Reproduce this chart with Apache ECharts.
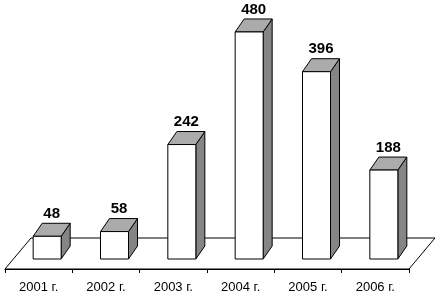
<!DOCTYPE html>
<html><head><meta charset="utf-8">
<script src="https://cdn.jsdelivr.net/npm/echarts@6/dist/echarts.min.js"></script>
<style>html,body{margin:0;padding:0;background:#fff}#c{width:439px;height:295px}</style>
</head><body><div id="c"></div>
<script>
var categories = ['2001 г.', '2002 г.', '2003 г.', '2004 г.', '2005 г.', '2006 г.'];
var values = [48, 58, 242, 480, 396, 188];

var chart = echarts.init(document.getElementById('c'), null, {renderer: 'canvas'});
var FONT = 'Arial, "Liberation Sans", sans-serif';

var barData = values.map(function (v, i) { return [i, v]; });

chart.setOption({
  animation: false,
  backgroundColor: '#fff',
  grid: {left: 5, right: 30, top: 32.5, bottom: 26, containLabel: false, outerBoundsMode: 'none'},
  xAxis: {
    type: 'category', data: categories, boundaryGap: true,
    axisLine: {show: true, lineStyle: {color: '#000', width: 1}},
    axisTick: {show: true, length: 4, interval: 0, alignWithLabel: false, lineStyle: {color: '#000'}},
    axisLabel: {color: '#000', fontFamily: FONT, fontSize: 13, margin: 12, interval: 0},
    splitLine: {show: false}
  },
  yAxis: {type: 'value', min: 0, max: 500, show: false, splitLine: {show: false}},
  series: [
    {
      type: 'custom', z: 1, silent: true,
      data: [[0, 0]],
      renderItem: function (params, api) {
        var cs = params.coordSys;
        var yb = cs.y + cs.height, x0 = cs.x, x1 = cs.x + cs.width;
        var dx = 26, dy = -31;
        return {
          type: 'polygon',
          shape: {points: [[x0, yb], [x0 + dx, yb + dy], [x1 + dx, yb + dy], [x1, yb]]},
          style: {fill: '#fff', stroke: '#000', lineWidth: 1}
        };
      }
    },
    {
      type: 'custom', z: 2, silent: true,
      data: barData,
      encode: {x: 0, y: 1},
      renderItem: function (params, api) {
        var idx = api.value(0), v = api.value(1);
        var base = api.coord([idx, 0]);
        var top = api.coord([idx, v]);
        var ox = 8.5, oy = -10;
        var w = 28, dx = 9, dy = -13;
        var cx = base[0] + ox;
        var xl = cx - w / 2, xr = cx + w / 2;
        var yb = base[1] + oy, yt = top[1] + oy;
        return {
          type: 'group',
          children: [
            {type: 'polygon', shape: {points: [[xr, yb], [xr + dx, yb + dy], [xr + dx, yt + dy], [xr, yt]]},
             style: {fill: '#858585', stroke: '#000', lineWidth: 1}},
            {type: 'polygon', shape: {points: [[xl, yt], [xl + dx, yt + dy], [xr + dx, yt + dy], [xr, yt]]},
             style: {fill: '#ababab', stroke: '#000', lineWidth: 1}},
            {type: 'rect', shape: {x: xl, y: yt, width: w, height: yb - yt},
             style: {fill: '#fff', stroke: '#000', lineWidth: 1}},
            {type: 'text', x: cx + dx / 2, y: yt + dy - 2,
             style: {text: String(v), fill: '#000', font: 'bold 15px ' + FONT, align: 'center', verticalAlign: 'bottom'}}
          ]
        };
      }
    }
  ]
});
</script>
</body></html>
